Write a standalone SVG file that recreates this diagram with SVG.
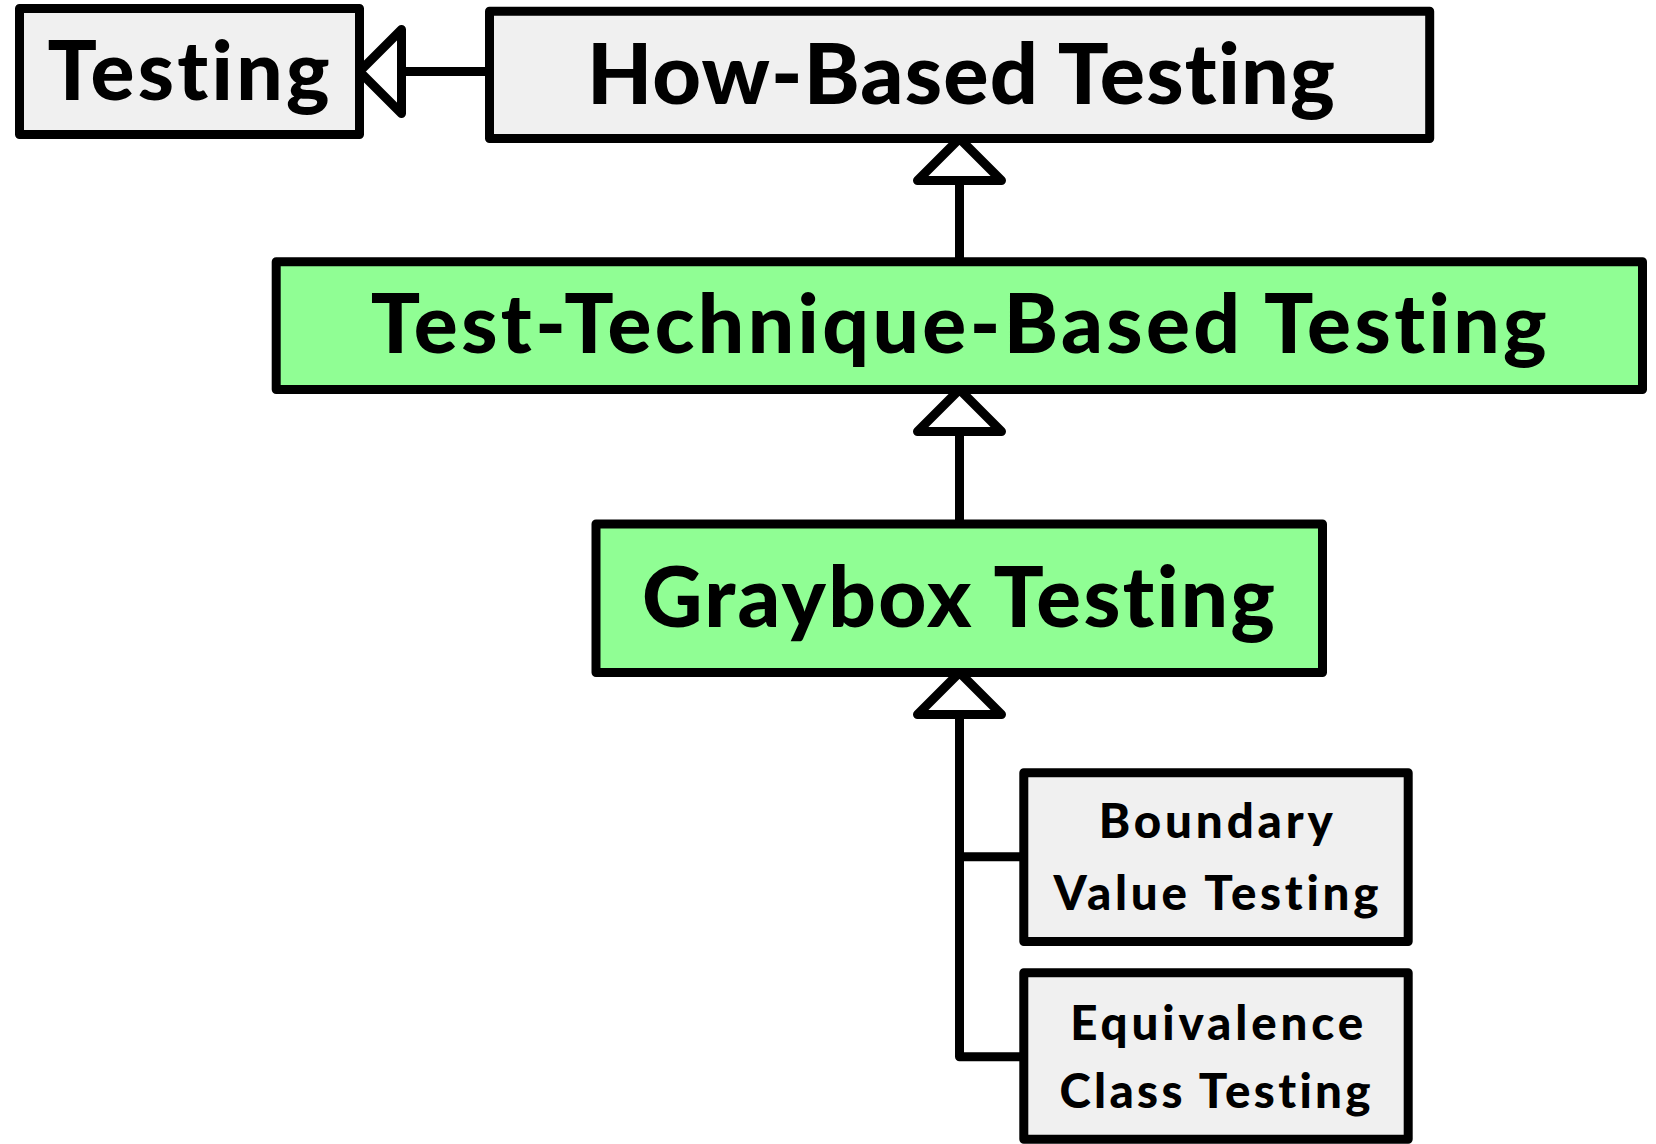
<svg xmlns="http://www.w3.org/2000/svg" xmlns:xlink="http://www.w3.org/1999/xlink" width="1656" height="1144" viewBox="0 0 1656 1144">
  <style>
    .box { stroke: #000; stroke-width: 9; stroke-linejoin: round; }
    .gray { fill: #f0f0f0; }
    .green { fill: #90fe94; }
    .conn { fill: none; stroke: #000; stroke-width: 9; stroke-linejoin: round; stroke-linecap: butt; }
    .head { fill: #fff; stroke: #000; stroke-width: 9; stroke-linejoin: round; }
    text { font-family: Lato, "Open Sans", "Liberation Sans", sans-serif; font-weight: 900; fill: #000; text-anchor: middle; font-variant-ligatures: none; font-feature-settings: "liga" 0, "clig" 0; }
    .big { font-size: 82px; }
    .small { font-size: 47.5px; }
  </style>
  <defs>
    <path id="tri" d="M0,0 L42,42 L-42,42 Z"/>
  </defs>
  <rect width="1656" height="1144" fill="#fff"/>

  <g id="connectors">
    <line class="conn" x1="401.5" y1="71.5" x2="489.5" y2="71.5"/>
    <use href="#tri" xlink:href="#tri" class="head" transform="translate(359.5,71.5) rotate(-90)"/>
    <line class="conn" x1="959.5" y1="180.5" x2="959.5" y2="261.7"/>
    <use href="#tri" xlink:href="#tri" class="head" transform="translate(959.5,138.5)"/>
    <line class="conn" x1="959.5" y1="431.5" x2="959.5" y2="524"/>
    <use href="#tri" xlink:href="#tri" class="head" transform="translate(959.5,389.5)"/>
    <polyline class="conn" points="959.5,714.5 959.5,1056.7 1023.8,1056.7"/>
    <line class="conn" x1="959.5" y1="856.7" x2="1023.8" y2="856.7"/>
    <use href="#tri" xlink:href="#tri" class="head" transform="translate(959.5,672.5)"/>
  </g>

  <g id="node-testing">
    <rect class="box gray" x="19.5" y="8.5" width="340" height="126"/>
    <text class="big" x="188.5" y="100" textLength="282" lengthAdjust="spacing">Testing</text>
  </g>

  <g id="node-how-based">
    <rect class="box gray" x="489.5" y="11.3" width="940.2" height="127.2"/>
    <text x="961" y="104" font-size="84.5" textLength="748" lengthAdjust="spacing">How-Based Testing</text>
  </g>

  <g id="node-test-technique">
    <rect class="box green" x="276.2" y="261.7" width="1366.3" height="127.8"/>
    <text class="big" x="958.7" y="353.3" textLength="1176" lengthAdjust="spacing">Test-Technique-Based Testing</text>
  </g>

  <g id="node-graybox">
    <rect class="box green" x="596" y="524" width="726.5" height="148.5"/>
    <text x="958.4" y="626.7" font-size="83.5" textLength="633" lengthAdjust="spacing">Graybox Testing</text>
  </g>

  <g id="node-boundary">
    <rect class="box gray" x="1023.8" y="772.8" width="384.4" height="168.7"/>
    <text class="small" x="1215.8" y="838" textLength="234" lengthAdjust="spacing">Boundary</text>
    <text class="small" x="1216" y="910" textLength="325" lengthAdjust="spacing">Value Testing</text>
  </g>

  <g id="node-equivalence">
    <rect class="box gray" x="1023.8" y="972.8" width="384.4" height="166.5"/>
    <text class="small" x="1216.7" y="1040" textLength="293" lengthAdjust="spacing">Equivalence</text>
    <text class="small" x="1215" y="1108.3" textLength="311" lengthAdjust="spacing">Class Testing</text>
  </g>
</svg>
